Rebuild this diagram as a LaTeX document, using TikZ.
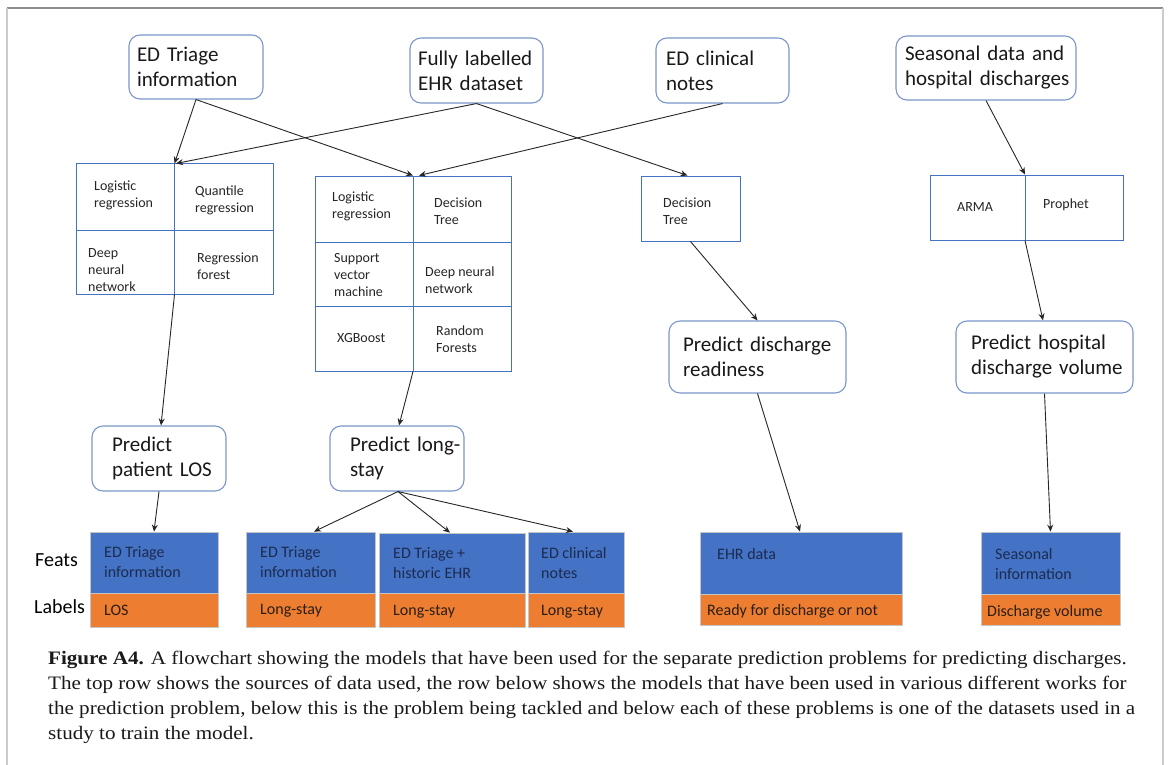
\documentclass[tikz,border=0pt]{standalone}
\usepackage{fontspec}
\setmainfont{Carlito}
\newfontfamily\capfont[FakeStretch=1.11]{Liberation Serif}
\usetikzlibrary{arrows.meta,calc}
\definecolor{bblue}{HTML}{4472C4}
\definecolor{rblue}{HTML}{7B97CC}
\definecolor{oorange}{HTML}{ED7D31}
\definecolor{navy}{HTML}{1C2B4F}
\definecolor{dtxt}{HTML}{2A1E14}
\tikzset{
  every node/.append style={execute at begin node={\hyphenpenalty=10000\exhyphenpenalty=10000}},
  rbox/.style={draw=rblue, line width=1.1pt, rounded corners=11pt, fill=white,
    align=left, inner xsep=0pt, inner ysep=0pt, font=\fontsize{21}{25}\selectfont, text=black!90},
  tbl/.style={draw=bblue, line width=1pt, inner sep=0pt},
  cell/.style={anchor=west, inner sep=0pt, align=left, font=\fontsize{14}{17}\selectfont, text=black!85},
  fbox/.style={fill=bblue, draw=gray!45, line width=0.8pt, inner sep=0pt},
  lbox/.style={fill=oorange, draw=gray!45, line width=0.8pt, inner sep=0pt},
  dtext/.style={anchor=west, inner sep=0pt, align=left, font=\fontsize{16}{20}\selectfont, text=navy},
  ltext/.style={anchor=west, inner sep=0pt, align=left, font=\fontsize{16}{20}\selectfont, text=dtxt},
  conn/.style={draw=black!85, line width=0.9pt, -{Stealth[length=7pt,width=6pt]}},
}
\begin{document}
\begin{tikzpicture}[x=1pt,y=-1pt]
\useasboundingbox[fill=white] (0,0) rectangle (1170,765);
% frame
\draw[gray!90, line width=1.2pt] (7,8) -- (1163,8);
\draw[gray!40, line width=2pt] (7,8) -- (7,765);
\draw[gray!40, line width=2pt] (1163,8) -- (1163,765);

% top sources
\node[rbox, minimum width=134pt, minimum height=64pt, text width=118pt] (tA) at (196,67) {\mbox{ED Triage}\\\mbox{information}};
\node[rbox, minimum width=133pt, minimum height=65pt, text width=117pt] (tB) at (476.5,70.5) {\mbox{Fully labelled}\\\mbox{EHR dataset}};
\node[rbox, minimum width=133pt, minimum height=65pt, text width=113pt] (tC) at (722.5,70.5) {\mbox{ED clinical}\\\mbox{notes}};
\node[rbox, minimum width=180pt, minimum height=64pt, text width=162pt] (tD) at (986,68) {\mbox{Seasonal data and}\\\mbox{hospital discharges}};

% model tables
\node[tbl, minimum width=197pt, minimum height=130pt] (Lt) at (174.5,229) {};
\draw[bblue, line width=1pt] (174.5,164) -- (174.5,294);
\draw[bblue, line width=1pt] (76,230) -- (273,230);
\node[cell] (l1) at (94,195.5) {Logistic\\regression};
\node[cell] (l2) at (195,200.5) {Quantile\\regression};
\node[cell] (l3) at (88,270) {Deep\\neural\\network};
\node[cell] (l4) at (197,266) {Regression\\forest};

\node[tbl, minimum width=196pt, minimum height=195pt] (Mt) at (413,273.5) {};
\draw[bblue, line width=1pt] (413,176) -- (413,371);
\draw[bblue, line width=1pt] (315,242) -- (511,242);
\draw[bblue, line width=1pt] (315,306) -- (511,306);
\node[cell] (m1) at (332,206.5) {Logistic\\regression};
\node[cell] (m2) at (434,211.5) {Decision\\Tree};
\node[cell] (m3) at (334,275) {Support\\vector\\machine};
\node[cell] (m4) at (425,280) {\mbox{Deep neural}\\network};
\node[cell] (m5) at (337,338) {XGBoost};
\node[cell] (m6) at (436,339) {Random\\Forests};

\node[tbl, minimum width=99pt, minimum height=65pt] (Dt) at (690.5,208.5) {};
\node[cell] (d1t) at (663,211.5) {Decision\\Tree};

\node[tbl, minimum width=193pt, minimum height=65pt] (At) at (1026.5,207.5) {};
\draw[bblue, line width=1pt] (1025,175) -- (1025,240);
\node[cell] (a1) at (957,207) {ARMA};
\node[cell] (a2) at (1043,205) {Prophet};

% prediction problems
\node[rbox, minimum width=134pt, minimum height=65pt, text width=94pt] (pL) at (159,458.5) {\mbox{Predict}\\\mbox{patient LOS}};
\node[rbox, minimum width=134pt, minimum height=65pt, text width=94pt] (pS) at (397,458.5) {\mbox{Predict long-}\\\mbox{stay}};
\node[rbox, minimum width=177pt, minimum height=72pt, text width=149pt] (pR) at (757.5,357) {\mbox{Predict discharge}\\\mbox{readiness}};
\node[rbox, minimum width=177pt, minimum height=72pt, text width=147pt] (pV) at (1044.5,357) {\mbox{Predict hospital}\\\mbox{discharge volume}};

% data boxes
\node[fbox, minimum width=128pt, minimum height=61pt] (d1) at (154,562.5) {};
\node[lbox, minimum width=128pt, minimum height=34pt] (o1) at (154,610) {};
\node[fbox, minimum width=129pt, minimum height=61pt] (d2) at (310.5,562.5) {};
\node[lbox, minimum width=129pt, minimum height=34pt] (o2) at (310.5,610) {};
\node[fbox, minimum width=146pt, minimum height=60pt] (d3) at (452,563) {};
\node[lbox, minimum width=146pt, minimum height=34pt] (o3) at (452,610) {};
\node[fbox, minimum width=96pt, minimum height=61pt] (d4) at (576,562.5) {};
\node[lbox, minimum width=96pt, minimum height=34pt] (o4) at (576,610) {};
\node[fbox, minimum width=202pt, minimum height=62pt] (d5) at (801,563) {};
\node[lbox, minimum width=202pt, minimum height=31pt] (o5) at (801,609.5) {};
\node[fbox, minimum width=139pt, minimum height=62pt] (d6) at (1050.5,563) {};
\node[lbox, minimum width=139pt, minimum height=31pt] (o6) at (1050.5,609.5) {};

\node[dtext] (t1) at (104,562) {ED Triage\\information};
\node[ltext] (u1) at (104,610) {LOS};
\node[dtext] (t2) at (260,562) {ED Triage\\information};
\node[ltext] (u2) at (260,611) {Long-stay};
\node[dtext] (t3) at (393,563) {ED Triage +\\historic EHR};
\node[ltext] (u3) at (393,612) {Long-stay};
\node[dtext] (t4) at (541,563) {ED clinical\\notes};
\node[ltext] (u4) at (541,612) {Long-stay};
\node[dtext] (t5) at (717,554) {EHR data};
\node[ltext] (u5) at (707,611) {Ready for discharge or not};
\node[dtext] (t6) at (995,564) {Seasonal\\information};
\node[ltext] (u6) at (987,612) {Discharge volume};

\node[anchor=west, inner sep=0pt, font=\fontsize{20}{24}\selectfont] (feats) at (35,560) {Feats};
\node[anchor=west, inner sep=0pt, font=\fontsize{20}{24}\selectfont] (labels) at (34,607) {Labels};

% connectors
\draw[conn] (tA.south) -- (Lt.north);
\draw[conn] (tA.south) -- (Mt.north);
\draw[conn] (tB.south) -- ([xshift=1.5pt]Lt.north);
\draw[conn] (tB.south) -- ([xshift=-3pt]Dt.north);
\draw[conn] (tC.south) -- ([xshift=6pt]Mt.north);
\draw[conn] (tD.south) -- ([xshift=-1.5pt]At.north);
\draw[conn] (Lt.south) -- ([xshift=2pt]pL.north);
\draw[conn] (Mt.south) -- ([xshift=2pt]pS.north);
\draw[conn] (Dt.south) -- (pR.north);
\draw[conn] ([xshift=-1.5pt]At.south) -- ([xshift=-1.5pt]pV.north);
\draw[conn] (pL.south) -- (d1.north);
\draw[conn] ([xshift=1pt]pS.south) -- ([xshift=3.5pt]d2.north);
\draw[conn] ([xshift=1pt]pS.south) -- ([xshift=-2pt]d3.north);
\draw[conn] ([xshift=1pt]pS.south) -- ([xshift=-3pt]d4.north);
\draw[conn] (pR.south) -- ([xshift=-1pt]d5.north);
\draw[conn] (pV.south) -- (d6.north);

% caption
\node[anchor=north west, inner sep=0pt, align=left, font=\capfont\fontsize{19}{25}\selectfont, text=black!90] (cap) at (48,651)
{\textbf{Figure A4.} A flowchart showing the models that have been used for the separate prediction problems for predicting discharges.\\
The top row shows the sources of data used, the row below shows the models that have been used in various different works for\\
the prediction problem, below this is the problem being tackled and below each of these problems is one of the datasets used in a\\
study to train the model.};
\end{tikzpicture}
\end{document}
